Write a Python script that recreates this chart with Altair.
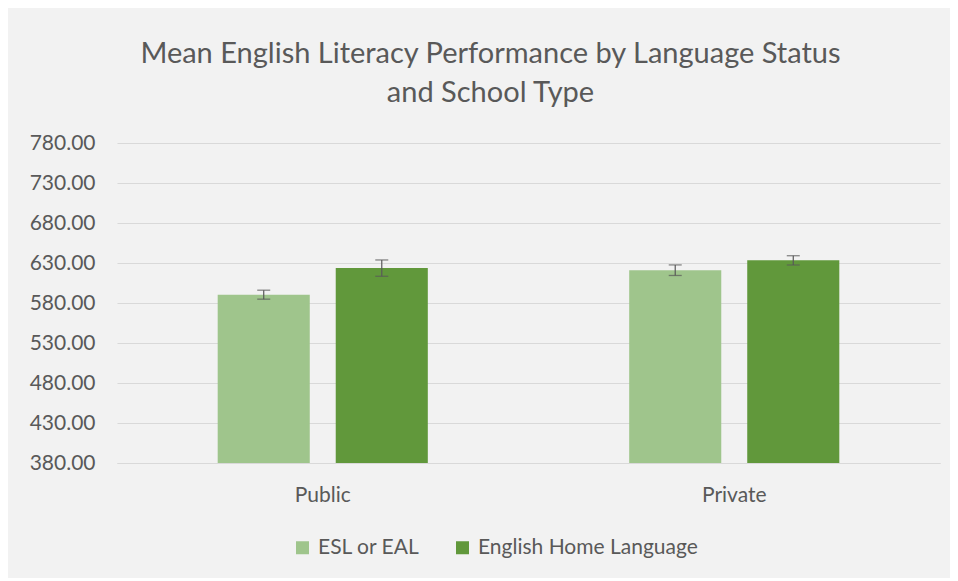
import altair as alt
import pandas as pd

schools = ["Public", "Private"]
groups = ["ESL or EAL", "English Home Language"]
esl_means = [590.4, 621.0]
esl_err = [5.6, 6.6]
ehl_means = [623.6, 633.3]
ehl_err = [10.2, 5.8]
y_ticks = [380, 430, 480, 530, 580, 630, 680, 730, 780]
colors = ["#9fc58c", "#61983b"]

rows = []
for i, s in enumerate(schools):
    rows.append({"school": s, "group": groups[0], "mean": esl_means[i],
                 "lo": esl_means[i] - esl_err[i], "hi": esl_means[i] + esl_err[i]})
    rows.append({"school": s, "group": groups[1], "mean": ehl_means[i],
                 "lo": ehl_means[i] - ehl_err[i], "hi": ehl_means[i] + ehl_err[i]})
df = pd.DataFrame(rows)

FONT = "Lato"
GREY = "#595959"
FS = 21

x = alt.X("school:N", sort=schools, title=None,
          scale=alt.Scale(paddingInner=0, paddingOuter=0),
          axis=alt.Axis(labelAngle=0, labelFontSize=FS, labelColor=GREY, labelFont=FONT,
                        labelPadding=21, ticks=False, domainColor="#d9d9d9", grid=False,
                        labelOverlap=False, labelLimit=0))
xo = alt.XOffset("group:N", sort=groups,
                 scale=alt.Scale(paddingInner=0.22, paddingOuter=0.853))

y_scale = alt.Scale(domain=[380, 780], zero=False, nice=False)
y_axis = alt.Axis(values=y_ticks, format=".2f", labelFontSize=FS, labelColor=GREY,
                  labelFont=FONT, labelPadding=22, ticks=False, domain=False,
                  gridColor="#d9d9d9", gridWidth=1, labelOverlap=False)


def yq(field):
    return alt.Y(f"{field}:Q", title=None, scale=y_scale, axis=y_axis)


bars = alt.Chart(df).mark_bar().encode(
    x=x, xOffset=xo,
    y=yq("mean"),
    y2=alt.datum(380),
    color=alt.Color("group:N", sort=groups, scale=alt.Scale(domain=groups, range=colors),
                    legend=alt.Legend(title=None, orient="none", direction="horizontal",
                                      legendX=175, legendY=394, symbolType="square",
                                      symbolSize=169, symbolStrokeWidth=0,
                                      labelFontSize=FS, labelColor=GREY, labelFont=FONT,
                                      labelOffset=5, columnPadding=32, labelLimit=0)),
)

rules = alt.Chart(df).mark_rule(color=GREY, strokeWidth=1.2).encode(
    x=x, xOffset=xo, y=yq("lo"), y2="hi:Q")
cap_lo = alt.Chart(df).mark_tick(color=GREY, size=13, thickness=1.3).encode(
    x=x, xOffset=xo, y=yq("lo"))
cap_hi = alt.Chart(df).mark_tick(color=GREY, size=13, thickness=1.3).encode(
    x=x, xOffset=xo, y=yq("hi"))

chart = alt.layer(bars, rules, cap_lo, cap_hi).properties(
    width=823, height=320,
    title=alt.Title(["Mean English Literacy Performance by Language Status", "and School Type"],
                    fontSize=29, font=FONT, fontWeight="normal", color=GREY,
                    anchor="middle", dx=-38, offset=24, lineHeight=39),
    autosize=alt.AutoSizeParams(type="none"),
    padding={"left": 109, "top": 135, "right": 10, "bottom": 115},
    background="#f2f2f2",
).configure_view(stroke=None)

chart.save("out.html", embed_options={"renderer": "svg", "actions": False})
